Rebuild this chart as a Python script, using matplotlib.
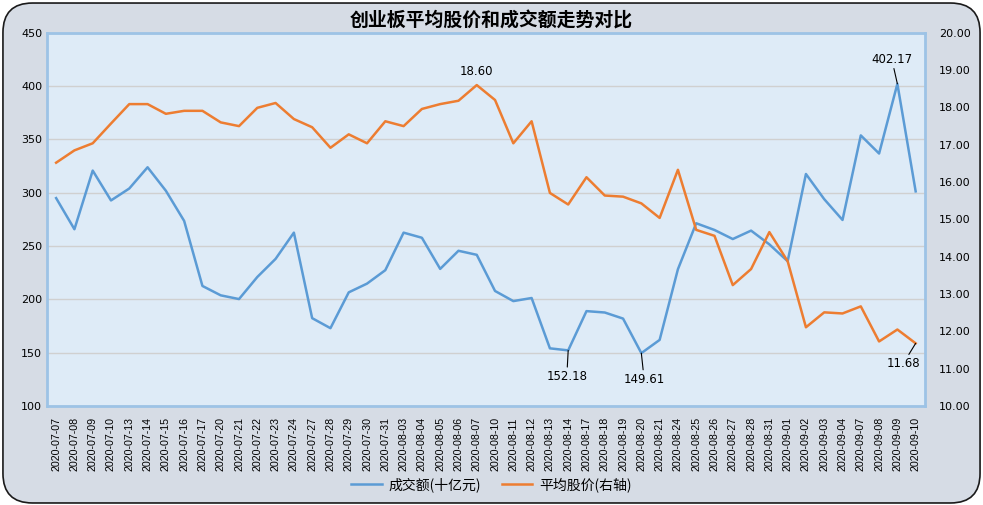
import matplotlib.pyplot as plt
from matplotlib.patches import FancyBboxPatch

plt.rcParams['font.family'] = ['DejaVu Sans', 'Noto Sans CJK SC']

dates = ['2020-07-07', '2020-07-08', '2020-07-09', '2020-07-10', '2020-07-13', '2020-07-14',
         '2020-07-15', '2020-07-16', '2020-07-17', '2020-07-20', '2020-07-21', '2020-07-22',
         '2020-07-23', '2020-07-24', '2020-07-27', '2020-07-28', '2020-07-29', '2020-07-30',
         '2020-07-31', '2020-08-03', '2020-08-04', '2020-08-05', '2020-08-06', '2020-08-07',
         '2020-08-10', '2020-08-11', '2020-08-12', '2020-08-13', '2020-08-14', '2020-08-17',
         '2020-08-18', '2020-08-19', '2020-08-20', '2020-08-21', '2020-08-24', '2020-08-25',
         '2020-08-26', '2020-08-27', '2020-08-28', '2020-08-31', '2020-09-01', '2020-09-02',
         '2020-09-03', '2020-09-04', '2020-09-07', '2020-09-08', '2020-09-09', '2020-09-10']

# 成交额 (十亿元), left axis
volume = [295.0, 265.8, 320.8, 292.8, 304.0, 323.9, 301.9, 273.6, 212.6, 203.8, 200.3, 221.0,
          238.0, 262.6, 182.4, 173.0, 206.6, 214.8, 227.4, 262.6, 257.8, 228.6, 245.6, 241.8,
          207.9, 198.4, 201.3, 154.1, 152.18, 189.0, 187.7, 182.0, 149.61, 162.0, 228.3, 271.4,
          265.1, 256.6, 264.5, 251.6, 235.8, 317.6, 294.0, 274.5, 353.8, 336.8, 402.17, 301.3]

# 平均股价, right axis
price = [16.52, 16.85, 17.04, 17.57, 18.09, 18.09, 17.83, 17.91, 17.91, 17.60, 17.50, 17.99,
         18.12, 17.69, 17.47, 16.92, 17.28, 17.04, 17.63, 17.50, 17.96, 18.09, 18.18, 18.60,
         18.20, 17.04, 17.63, 15.71, 15.40, 16.13, 15.64, 15.61, 15.43, 15.04, 16.33, 14.72,
         14.56, 13.24, 13.67, 14.66, 13.88, 12.11, 12.51, 12.48, 12.67, 11.73, 12.05, 11.68]

blue = '#5B9BD5'
orange = '#ED7D31'
x = list(range(len(dates)))

fig = plt.figure(figsize=(9.83, 5.05), dpi=100)
fig.patch.set_visible(False)
# rounded chart frame
frame = FancyBboxPatch((0.003, 0.004), 0.994, 0.99, boxstyle='round,pad=0,rounding_size=0.03',
                       transform=fig.transFigure, facecolor='#D6DCE5', edgecolor='#1a1a1a',
                       linewidth=1.2, mutation_aspect=983 / 505, zorder=-10)
fig.patches.append(frame)

ax1 = fig.add_axes([0.0478, 0.196, 0.893, 0.739])
ax1.set_facecolor('#DEEBF7')
ax1.plot(x, volume, color=blue, linewidth=1.8, zorder=3)
ax1.set_xlim(-0.5, len(dates) - 0.5)
ax1.set_ylim(100, 450)
ax1.set_yticks(range(100, 451, 50))
ax1.grid(axis='y', color='#D0D0D0', linewidth=1)
ax1.set_axisbelow(True)
ax1.set_xticks(x)
ax1.set_xticklabels(dates, rotation=90, family='Liberation Sans', fontsize=7.7)
ax1.tick_params(axis='both', length=0, labelsize=8)
ax1.tick_params(axis='x', labelsize=7.7, pad=8)
for s in ax1.spines.values():
    s.set_color('#9DC3E6')
    s.set_linewidth(2)

ax2 = ax1.twinx()
ax2.plot(x, price, color=orange, linewidth=1.8, zorder=3)
ax2.set_ylim(10, 20)
ax2.set_yticks(range(10, 21))
ax2.set_yticklabels([f'{v:.2f}' for v in range(10, 21)])
ax2.tick_params(axis='y', length=0, labelsize=8, pad=10)
for s in ax2.spines.values():
    s.set_visible(False)

line = dict(arrowstyle='-', color='black', lw=0.8, shrinkA=0, shrinkB=0)

# data labels
i_max = price.index(max(price))
ax2.annotate(f'{price[i_max]:.2f}', (x[i_max], price[i_max]), xytext=(0, 5),
             textcoords='offset points', ha='center', va='bottom', fontsize=8.5)
ax2.annotate(f'{price[-1]:.2f}', (x[-1], price[-1]), xytext=(-9, -10),
             textcoords='offset points', ha='center', va='top', fontsize=8.5, arrowprops=line)
for i, dx in [(28, -1), (32, 2)]:
    ax1.annotate(f'{volume[i]:.2f}', (x[i], volume[i]), xytext=(dx, -14),
                 textcoords='offset points', ha='center', va='top', fontsize=8.5, arrowprops=line)
ax1.annotate(f'{volume[46]:.2f}', (x[46], volume[46]), xytext=(-4, 13),
             textcoords='offset points', ha='center', va='bottom', fontsize=8.5, arrowprops=line)

fig.text(0.5, 0.958, '创业板平均股价和成交额走势对比', ha='center', va='center',
         fontsize=13.6, fontweight='bold', family=['Noto Sans CJK SC', 'DejaVu Sans'])

h1, = ax1.plot([], [], color=blue, linewidth=1.8)
h2, = ax1.plot([], [], color=orange, linewidth=1.8)
fig.legend([h1, h2], ['成交额(十亿元)', '平均股价(右轴)'], loc='center', bbox_to_anchor=(0.5, 0.041),
           ncol=2, frameon=False, prop={'family': ['Noto Sans CJK SC', 'DejaVu Sans'], 'size': 10},
           handlelength=2.2, columnspacing=1.5, handletextpad=0.5)

fig.savefig('out.png', dpi=100)
